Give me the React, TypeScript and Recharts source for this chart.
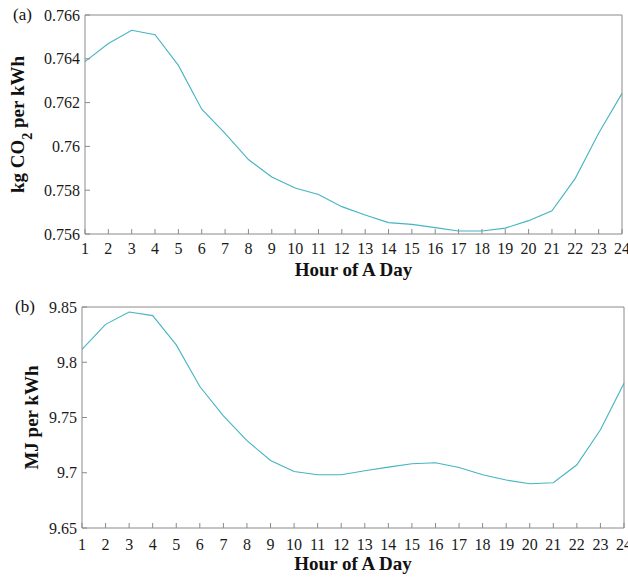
import { LineChart, Line, XAxis, YAxis } from 'recharts'

const hours = [1, 2, 3, 4, 5, 6, 7, 8, 9, 10, 11, 12, 13, 14, 15, 16, 17, 18, 19, 20, 21, 22, 23, 24]

const co2PerKwh = [
  0.76387, 0.7647, 0.7653, 0.7651, 0.7637, 0.7617, 0.7606, 0.7594, 0.7586, 0.7581, 0.7578, 0.75725,
  0.75687, 0.75652, 0.75644, 0.75629, 0.75614, 0.75614, 0.75627, 0.75661, 0.75706, 0.75854, 0.7606, 0.76242
]

const mjPerKwh = [
  9.8117, 9.8343, 9.8455, 9.8422, 9.8157, 9.778, 9.7515, 9.729, 9.7111, 9.7012, 9.6982, 9.6982,
  9.7018, 9.7051, 9.7081, 9.709, 9.7048, 9.6982, 9.6934, 9.6901, 9.691, 9.7072, 9.7389, 9.781
]

const co2Ticks = [0.756, 0.758, 0.76, 0.762, 0.764, 0.766]
const mjTicks = [9.65, 9.7, 9.75, 9.8, 9.85]

const serif = 'Liberation Serif'
const frame = '#8a8a8a'
const lineColor = '#45b4c2'
const tickFont = { fill: '#1a1a1a', fontSize: 16, fontFamily: serif }

const co2Data = hours.map((h, i) => ({ hour: h, value: co2PerKwh[i] }))
const mjData = hours.map((h, i) => ({ hour: h, value: mjPerKwh[i] }))

function XTitle (props: any) {
  const vb = props.viewBox
  return (
    <text x={vb.x + vb.width / 2} y={vb.y + 42} textAnchor="middle" fontFamily={serif}
      fontWeight="bold" fontSize={19} fill="#111">Hour of A Day</text>
  )
}

function Panel ({ data, ticks, digits, plot, tag, ylabel, labelX, height }: any) {
  const cy = plot.top + (plot.bottom - plot.top) / 2
  const YTitle = () => (
    <g>
      <text x={plot.tagX} y={plot.top + 5} fontFamily={serif} fontSize={17} fill="#111">{tag}</text>
      <text x={labelX} y={cy} transform={`rotate(-90 ${labelX} ${cy})`} textAnchor="middle"
        fontFamily={serif} fontWeight="bold" fontSize={19} fill="#111">{ylabel}</text>
    </g>
  )
  return (
    <LineChart width={628} height={height} data={data} margin={{ top: 0, right: 0, bottom: 0, left: 0 }}>
      <XAxis xAxisId="bottom" dataKey="hour" type="number" domain={[1, 24]} ticks={hours}
        interval={0} tickSize={-5} tickMargin={plot.xMargin} tick={tickFont}
        stroke={frame} height={height - plot.bottom} label={<XTitle />} />
      <XAxis xAxisId="top" orientation="top" dataKey="hour" type="number" domain={[1, 24]}
        ticks={hours} interval={0} tickSize={-5} tick={false} stroke={frame} height={plot.top} />
      <YAxis yAxisId="left" type="number" domain={[ticks[0], ticks[ticks.length - 1]]} ticks={ticks}
        interval={0} tickSize={-5} tickMargin={10} tick={tickFont} stroke={frame} width={plot.left}
        tickFormatter={(v: number) => String(+v.toFixed(digits))} label={<YTitle />} />
      <YAxis yAxisId="right" orientation="right" type="number" domain={[ticks[0], ticks[ticks.length - 1]]}
        ticks={ticks} interval={0} tickSize={-5} tick={false} stroke={frame} width={628 - plot.right} />
      <Line xAxisId="bottom" yAxisId="left" type="linear" dataKey="value" stroke={lineColor}
        strokeWidth={1.1} dot={false} isAnimationActive={false} />
    </LineChart>
  )
}

export default function App () {
  return (
    <div style={{ position: 'absolute', left: 0, top: 0, width: 628, height: 577, background: '#fff' }}>
      <div style={{ position: 'absolute', left: 0, top: 0 }}>
        <Panel data={co2Data} ticks={co2Ticks} digits={3} height={288} tag="(a)" labelX={24}
          ylabel={<>kg CO<tspan baseline-shift="sub" fontSize={14}>2</tspan> per kWh</>}
          plot={{ top: 15, bottom: 234, left: 85, right: 622, xMargin: 14, tagX: 13 }} />
      </div>
      <div style={{ position: 'absolute', left: 0, top: 288 }}>
        <Panel data={mjData} ticks={mjTicks} digits={2} height={289} tag="(b)" labelX={38}
          ylabel="MJ per kWh"
          plot={{ top: 19, bottom: 240, left: 82, right: 624, xMargin: 16, tagX: 15 }} />
      </div>
    </div>
  )
}
